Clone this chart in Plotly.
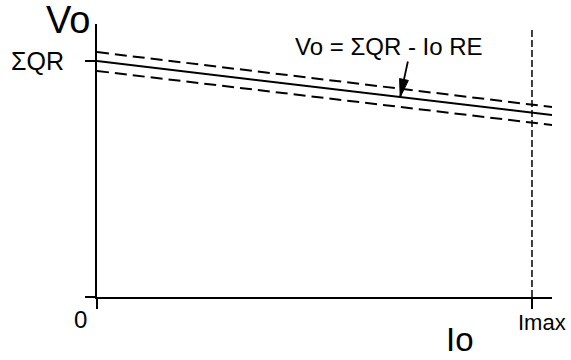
import plotly.graph_objects as go

# Data (normalised units: Io in units of Imax, Vo in units of SumQR)
io = [0.0, 1.046]
vo_nominal = [1.0, 0.771]
vo_upper = [1.038, 0.805]
vo_lower = [0.958, 0.729]
imax = 1.0
imax_line_vo = [0.0, 1.144]
sum_qr = 1.0
arrow_tip_io = 0.697

FONT = "Liberation Sans, Arial, sans-serif"

fig = go.Figure()
fig.add_trace(go.Scatter(x=io, y=vo_nominal, mode="lines",
                         line=dict(color="black", width=2), hoverinfo="skip"))
fig.add_trace(go.Scatter(x=io, y=vo_upper, mode="lines",
                         line=dict(color="black", width=2, dash="12px,6px"), hoverinfo="skip"))
fig.add_trace(go.Scatter(x=io, y=vo_lower, mode="lines",
                         line=dict(color="black", width=2, dash="12px,6px"), hoverinfo="skip"))
fig.add_trace(go.Scatter(x=[imax, imax], y=imax_line_vo, mode="lines",
                         line=dict(color="black", width=1.5, dash="7px,3px"), hoverinfo="skip",
                         cliponaxis=False))

fig.update_layout(
    width=571, height=360,
    margin=dict(l=97, r=19, t=24, b=63),
    paper_bgcolor="white", plot_bgcolor="white",
    showlegend=False,
    font=dict(family=FONT, color="black"),
    xaxis=dict(range=[0, 1.046], showgrid=False, zeroline=False,
               showline=True, linecolor="black", linewidth=2,
               ticks="outside", ticklen=10, tickwidth=2, tickcolor="black",
               tickvals=[0, imax], showticklabels=False, fixedrange=True),
    yaxis=dict(range=[0, 1.157], showgrid=False, zeroline=False,
               showline=True, linecolor="black", linewidth=2,
               ticks="outside", ticklen=10, tickwidth=2, tickcolor="black",
               tickvals=[0, sum_qr], showticklabels=False, fixedrange=True),
)

def label(text, x, y, size, xref="paper", yref="paper"):
    fig.add_annotation(text=text, x=x, y=y, xref=xref, yref=yref,
                       showarrow=False, xanchor="center", yanchor="middle",
                       font=dict(size=size, family=FONT, color="black"))

label("Vo", -0.0637, 1.0147, 38)
label("ΣQR", -0.1297, sum_qr, 25, yref="y")
label("0", -0.0352, -0.0806, 24)
label("Imax", 0.978, -0.0916, 22)
label("Io", 0.798, -0.155, 33)
label("Vo = ΣQR - Io RE", 0.6418, 0.919, 24)

# arrow pointing to nominal line (tip located on the nominal line)
slope = (vo_nominal[1] - vo_nominal[0]) / (io[1] - io[0])
tip_vo = vo_nominal[0] + slope * (arrow_tip_io - io[0])
fig.add_annotation(text="", x=arrow_tip_io, y=tip_vo, xref="x", yref="y",
                   showarrow=True, ax=8, ay=-37, axref="pixel", ayref="pixel",
                   arrowhead=0, arrowwidth=1.8, arrowcolor="black")
fig.add_shape(type="path", xref="x", yref="y", xsizemode="pixel", ysizemode="pixel",
              xanchor=arrow_tip_io, yanchor=tip_vo,
              path="M0,0 L8.2,16.6 L-0.6,18.5 Z",
              fillcolor="black", line=dict(color="black", width=1))

fig.write_html("out.html", config={"displayModeBar": False},
               post_script="document.body.style.margin='0';document.body.style.overflow='hidden';")
